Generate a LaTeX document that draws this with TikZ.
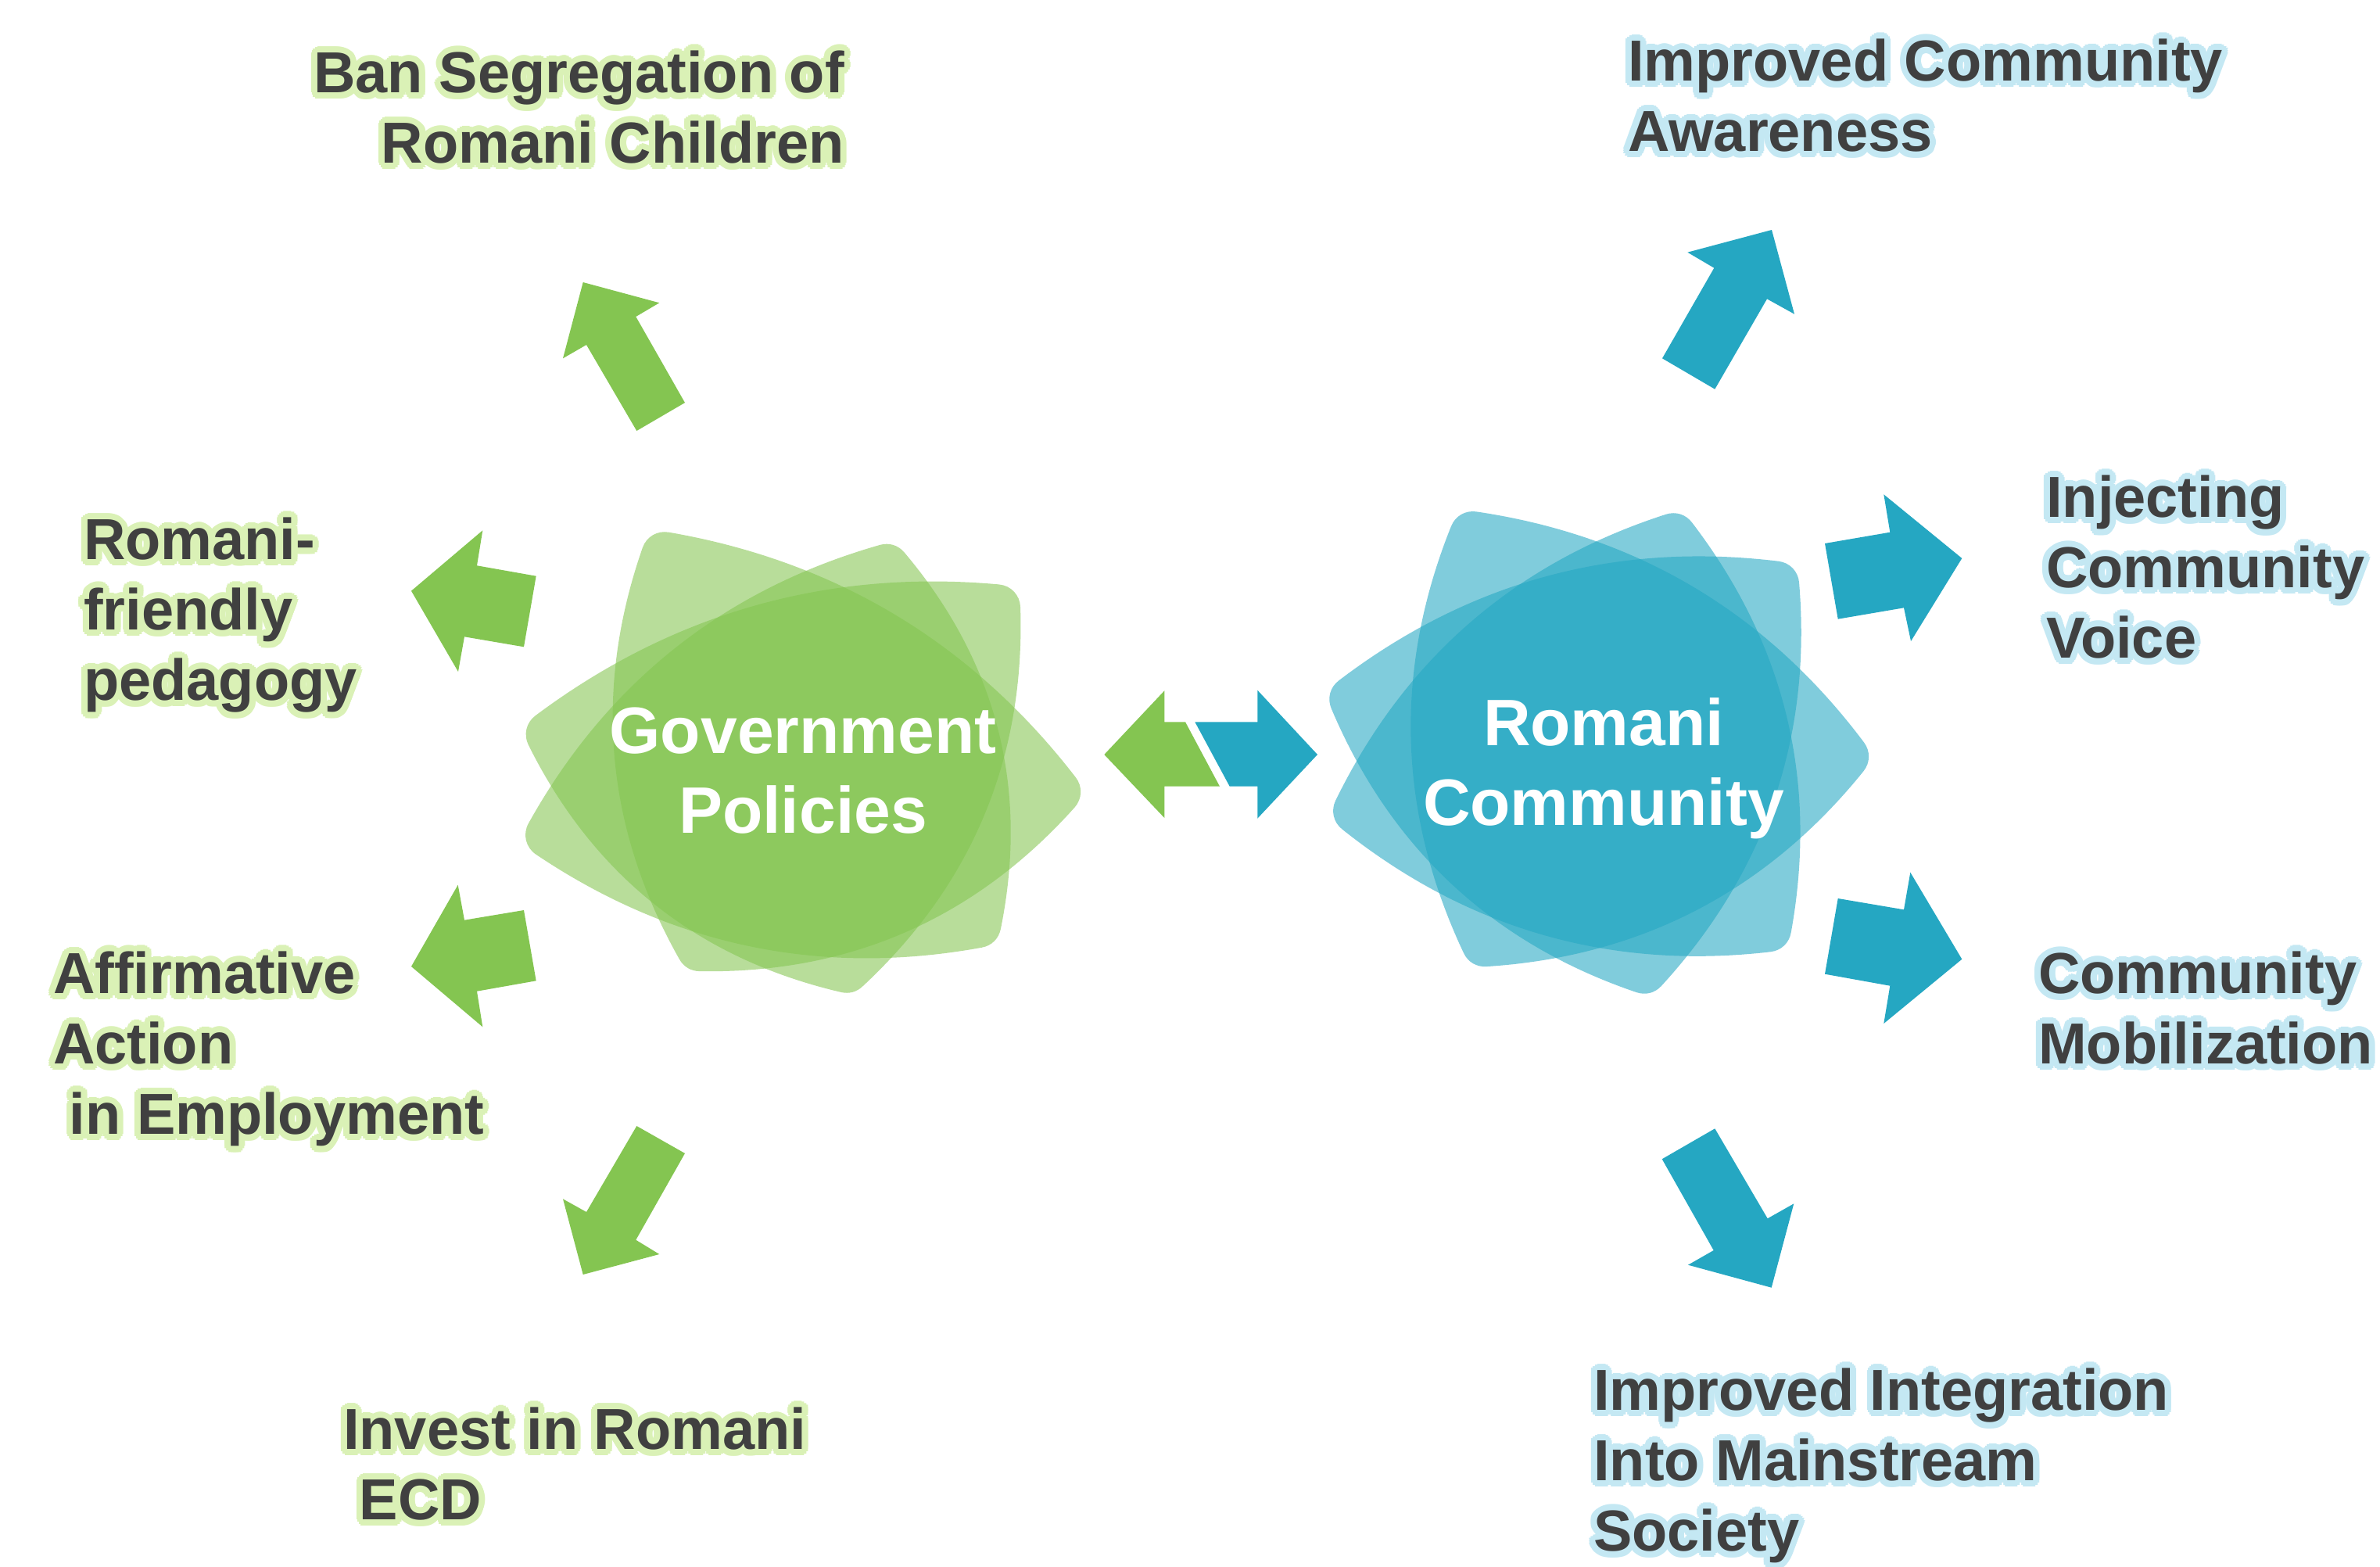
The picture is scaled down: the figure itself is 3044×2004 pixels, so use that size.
\documentclass[tikz,border=0pt]{standalone}
\usepackage{fontspec}
\setmainfont{Liberation Sans}
\usepackage[copies]{contour}
\usetikzlibrary{calc}
\definecolor{gArrow}{HTML}{84C551}
\definecolor{bArrow}{HTML}{25A7C2}
\definecolor{labelgray}{HTML}{404040}
\definecolor{gGlow}{HTML}{DAF1B6}
\definecolor{bGlow}{HTML}{C4E8F3}
\contourlength{8pt}
\contournumber{16}
\newcommand{\gl}[1]{\contour{gGlow}{#1}}
\newcommand{\bl}[1]{\contour{bGlow}{#1}}
% one rounded, bulging triangle of a star; #1 centre, #2-#4 tips (clockwise), #5 colour
\newcommand{\petal}[5]{%
  \begin{scope}[transparency group, opacity=0.58]
    \path ($(#1)+(-460,-460)$) rectangle ($(#1)+(460,460)$);
    \coordinate (pa) at ($(#2)!30pt!(#1)$);
    \coordinate (pb) at ($(#3)!30pt!(#1)$);
    \coordinate (pc) at ($(#4)!30pt!(#1)$);
    \filldraw[draw=#5, fill=#5, line width=60pt, line join=round]
      (pa) .. controls ($(pa)!0.3333!(pb)!76pt!90:(pb)$) and ($(pb)!0.3333!(pa)!76pt!-90:(pa)$) .. (pb)
           .. controls ($(pb)!0.3333!(pc)!76pt!90:(pc)$) and ($(pc)!0.3333!(pb)!76pt!-90:(pb)$) .. (pc)
           .. controls ($(pc)!0.3333!(pa)!76pt!90:(pa)$) and ($(pa)!0.3333!(pc)!76pt!-90:(pc)$) .. cycle;
  \end{scope}}
\tikzset{
  lbl/.style={inner sep=0pt, text=labelgray, font=\fontsize{74}{90}\selectfont\bfseries, align=left},
  ctr/.style={inner sep=0pt, text=white, font=\fontsize{84}{102}\selectfont\bfseries, align=center},
  garrow/.style={fill=gArrow},
  barrow/.style={fill=bArrow}
}
\begin{document}
\begin{tikzpicture}[x=1pt,y=-1pt]
% ---- stars
\petal{1027,986}{834,685}{1382,1015}{880,1238}{gArrow}
\petal{1027,986}{1145,698}{1273,1202}{673,1075}{gArrow}
\petal{1027,986}{1298,758}{1089,1269}{673,935}{gArrow}
\petal{2043,962}{1869,658}{2390,968}{1884,1232}{bArrow}
\petal{2043,962}{2150,658}{2282,1209}{1706,1044}{bArrow}
\petal{2043,962}{2293,727}{2109,1270}{1701,888}{bArrow}
% ---- green arrows
\fill[garrow] (876,515) -- (813.3,405) -- (843.3,387.3) -- (745.7,361) -- (720,458.3) -- (750,441) -- (814.3,551) -- cycle;
\fill[garrow] (685.7,736.7) -- (610,723.3) -- (617.3,678.3) -- (526,755.7) -- (586,859) -- (594,814.3) -- (670,827.3) -- cycle;
\fill[garrow] (670,1164) -- (594,1176.7) -- (585.7,1131.7) -- (526,1236) -- (617.3,1313.3) -- (610,1267.7) -- (685.7,1254.3) -- cycle;
\fill[garrow] (814.3,1440) -- (876,1475) -- (813.3,1585.7) -- (843.3,1604) -- (745.7,1630) -- (720,1533.3) -- (750,1550) -- cycle;
% ---- centre double arrow
\fill[garrow] (1412.3,965) -- (1489.3,883.3) -- (1489.3,923.3) -- (1516,923.3) -- (1560,1005.7) -- (1489.3,1005.7) -- (1489.3,1046) -- cycle;
\fill[barrow] (1528.3,923.3) -- (1608.3,923.3) -- (1608.3,882.7) -- (1685,965) -- (1608.3,1046.7) -- (1608.3,1005.7) -- (1572.7,1005.7) -- cycle;
% ---- blue arrows
\fill[barrow] (2126,458.3) -- (2192.3,342.7) -- (2158.3,322.7) -- (2266,294) -- (2295,401.7) -- (2260,382.3) -- (2193.3,497.7) -- cycle;
\fill[barrow] (2334,695) -- (2417.3,680.7) -- (2409.3,632.3) -- (2509.3,714) -- (2444,820) -- (2435,777.3) -- (2350.7,791.7) -- cycle;
\fill[barrow] (2350.7,1149) -- (2435,1163.3) -- (2443.3,1115.7) -- (2509.3,1226.7) -- (2409.3,1309) -- (2417.3,1260.7) -- (2334,1245.7) -- cycle;
\fill[barrow] (2125.7,1482.3) -- (2193.3,1443.3) -- (2260.7,1558.3) -- (2294.3,1539.3) -- (2265.7,1646.7) -- (2159,1617.7) -- (2191.7,1599) -- cycle;
% ---- centre labels
\node[ctr, anchor=north] (gov) at (1027,905) {Government\\Policies};
\node[ctr, anchor=north] (rom) at (2051,892) {Romani\\Community};
% ---- green labels
\node[lbl, anchor=north east, align=right] (ban) at (1080,65) {\gl{Ban Segregation of}\\\gl{Romani Children}};
\node[lbl, anchor=north west] (ped) at (107,662) {\gl{Romani-}\\\gl{friendly}\\\gl{pedagogy}};
\node[lbl, anchor=north west] (aff) at (68,1217) {\gl{Affirmative}\\\gl{Action}\\\gl{\ in Employment}};
\node[lbl, anchor=north west] (ecd) at (439,1800) {\gl{Invest in Romani}\\\gl{\ ECD}};
% ---- blue labels
\node[lbl, anchor=north west] (aware) at (2082,50) {\bl{Improved Community}\\\bl{Awareness}};
\node[lbl, anchor=north west] (voice) at (2617,608) {\bl{Injecting}\\\bl{Community}\\\bl{Voice}};
\node[lbl, anchor=north west] (mob) at (2607,1217) {\bl{Community}\\\bl{Mobilization}};
\node[lbl, anchor=north west] (integ) at (2038,1750) {\bl{Improved Integration}\\\bl{Into Mainstream}\\\bl{Society}};
\pgfresetboundingbox
\useasboundingbox (0,0) rectangle (3044,2004);
\end{tikzpicture}
\end{document}
